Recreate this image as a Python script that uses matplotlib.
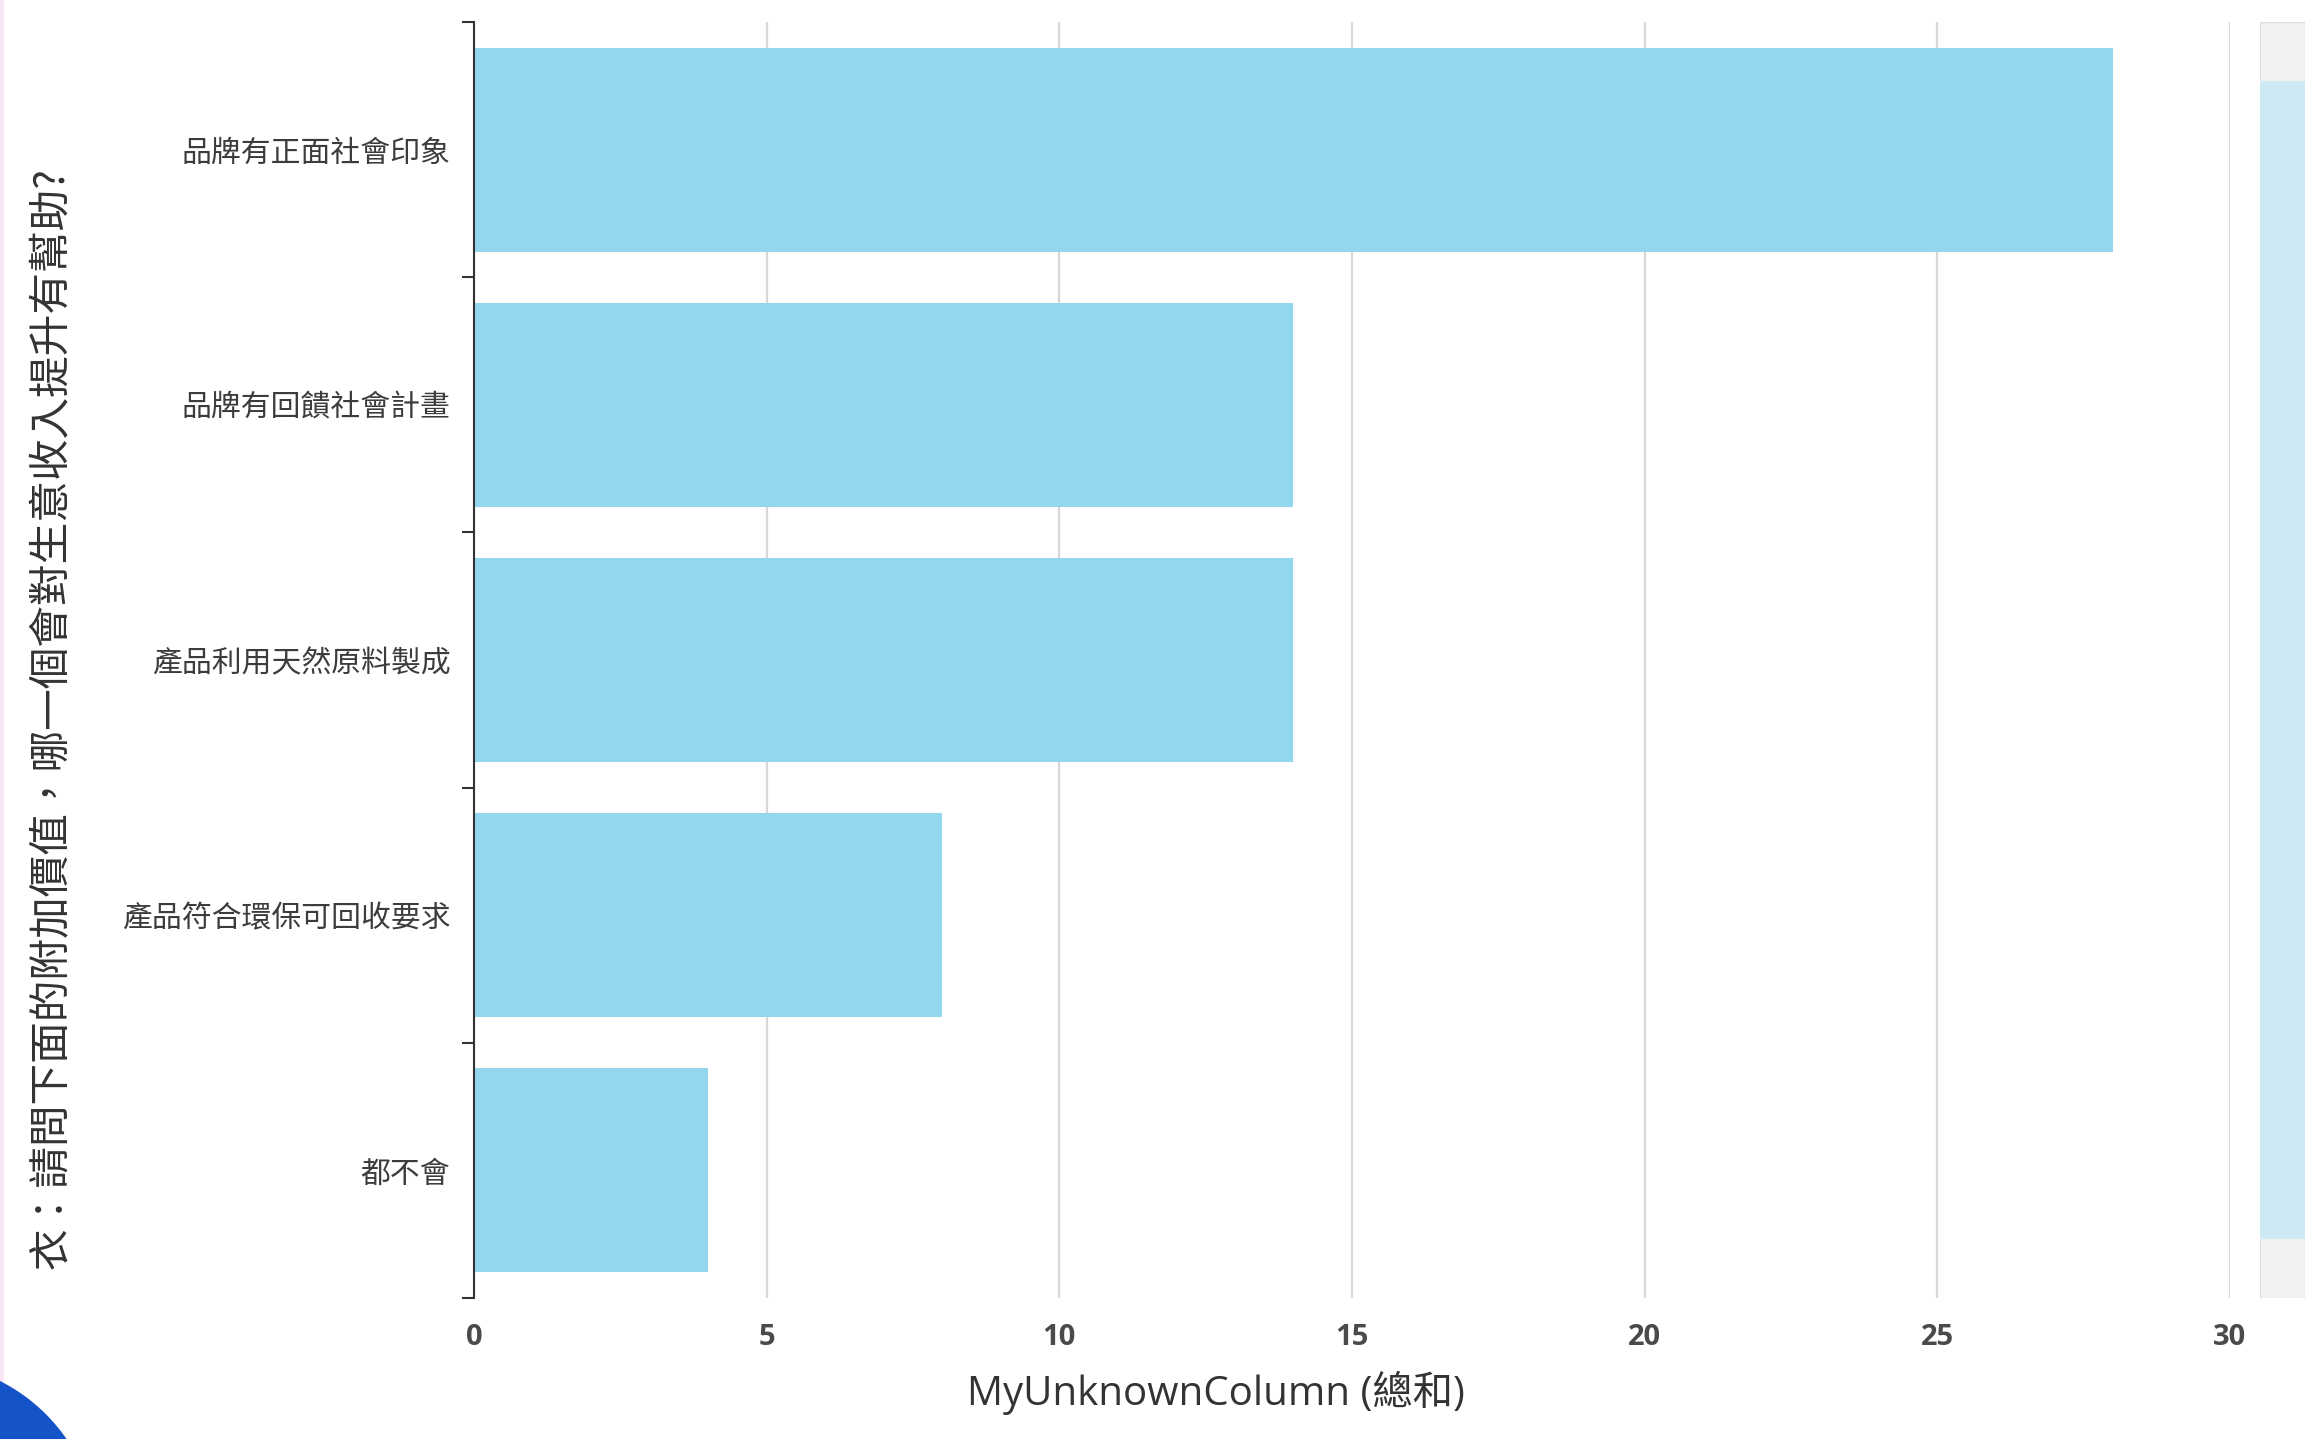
import matplotlib.pyplot as plt
from matplotlib.patches import Rectangle, Circle

plt.rcParams['font.family'] = ['Noto Sans CJK TC', 'DejaVu Sans']

categories = ['品牌有正面社會印象', '品牌有回饋社會計畫', '產品利用天然原料製成',
              '產品符合環保可回收要求', '都不會']
values = [28, 14, 14, 8, 4]
xticks = [0, 5, 10, 15, 20, 25, 30]
ylabel = '衣：請問下面的附加價值，哪一個會對生意收入提升有幫助?'
xlabel = 'MyUnknownColumn (總和)'

W, H = 2321, 1439
fig = plt.figure(figsize=(W / 100, H / 100), dpi=100)
ax = fig.add_axes([474 / W, 1 - 1298 / H, (2230 - 474) / W, (1298 - 22) / H])

pos = list(range(len(categories)))
ax.barh(pos, values, height=0.8, color='#93d7ee', zorder=2)
ax.set_ylim(len(categories) - 0.5, -0.5)
ax.set_xlim(0, 30)

ax.set_yticks(pos)
ax.set_yticklabels(categories, fontsize=21.5, color='#3c3c3c', fontweight='medium')
ax.tick_params(axis='y', which='major', length=0, pad=17)
ax.set_yticks([p - 0.5 for p in pos] + [len(categories) - 0.5], minor=True)
ax.tick_params(axis='y', which='minor', length=8.5, width=1.5, color='#333333')

ax.set_xticks(xticks)
ax.set_xticklabels([str(t) for t in xticks], fontsize=21, color='#4a4a4a',
                   fontfamily=['Open Sans', 'DejaVu Sans'], fontweight='bold')
ax.tick_params(axis='x', length=0, pad=18)
ax.grid(axis='x', color='#d8d8d8', linewidth=1.6, zorder=0)
ax.set_axisbelow(True)

for s in ['top', 'right', 'bottom']:
    ax.spines[s].set_visible(False)
ax.spines['left'].set_color('#333333')
ax.spines['left'].set_linewidth(1.5)
ax.spines['left'].set_zorder(3)

fig.text(1216 / W, 1 - 1393 / H, xlabel, ha='center', va='center', fontsize=29,
         color='#333333', family=['Open Sans', 'Noto Sans CJK TC'])
fig.text(52 / W, 1 - 718 / H, ylabel, ha='center', va='center', rotation=90,
         fontsize=30, color='#333333')

# scrollbar on the right
sb = fig.add_axes([2260 / W, 1 - 1298 / H, 45 / W, (1298 - 22) / H])
sb.set_xlim(0, 1)
sb.set_ylim(0, 1)
sb.axis('off')
sb.add_patch(Rectangle((0, 0), 1, 1, facecolor='#f1f1f1', edgecolor='#dddddd', lw=1))
sb.add_patch(Rectangle((0, 0.046), 1, 0.908, facecolor='#cce9f4', edgecolor='none'))

# decorative edges
fig.patches.append(Rectangle((0, 0), 4 / W, 1, transform=fig.transFigure,
                             facecolor='#f6e6f8', edgecolor='none'))
fig.patches.append(Circle((-80, -101), 178, transform=None,
                          facecolor='#1454c8', edgecolor='none'))

fig.savefig('out.png', dpi=100)
